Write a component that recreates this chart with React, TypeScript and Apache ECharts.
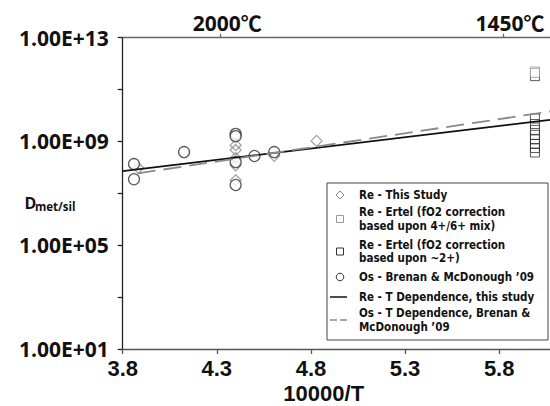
import React, { useEffect, useRef } from "react";
import * as echarts from "echarts";

// ---- data ----
const xTicks = [3.8, 4.3, 4.8, 5.3, 5.8];
const yTickValues = [1e1, 1e3, 1e5, 1e7, 1e9, 1e11, 1e13];
const yLabelValues = [1e1, 1e5, 1e9, 1e13];
const topTickValues = [4.318, 5.82];
const topTickLabels = ["2000℃", "1450℃"];

// Re - This Study (diamonds)
const reStudyX = [3.883, 4.4, 4.4, 4.4, 4.4, 4.4, 4.605, 4.83];
const reStudyD = [9.5e7, 7.2e8, 4.7e8, 2.3e8, 1.2e8, 3.2e7, 2.8e8, 1.05e9];

// Re - Ertel (4+/6+ mix) light squares
const ertelMixX = [5.99, 5.99];
const ertelMixD = [5.0e11, 4.4e11];

// Re - Ertel (~2+) dark squares
const ertel2X = [5.99, 5.99, 5.99, 5.99, 5.99, 5.99, 5.99, 5.99, 5.99];
const ertel2D = [3.3e11, 7.7e9, 4.7e9, 2.8e9, 1.8e9, 1.2e9, 8.0e8, 5.6e8, 3.75e8];

// Os - Brenan & McDonough '09 (circles)
const osX = [3.86, 3.86, 4.126, 4.4, 4.4, 4.4, 4.4, 4.5, 4.605];
const osD = [1.35e8, 3.5e7, 3.9e8, 1.95e9, 1.6e9, 1.6e8, 2.1e7, 2.75e8, 3.9e8];

// Re - T dependence, this study (solid)
const reFitX = [3.8, 6.07];
const reFitD = [7.2e7, 6.8e9];

// Os - T dependence, Brenan & McDonough '09 (dashed)
const osFitX = [3.88, 6.07];
const osFitD = [5.9e7, 1.43e10];

const legendLabels = [
  ["Re - This Study"],
  ["Re - Ertel (fO2 correction", "based upon 4+/6+ mix)"],
  ["Re - Ertel (fO2 correction", "based upon ~2+)"],
  ["Os - Brenan & McDonough \u201909"],
  ["Re - T Dependence, this study"],
  ["Os - T Dependence, Brenan &", "McDonough \u201909"],
];

const FONT = "'Open Sans', 'Noto Sans CJK SC', sans-serif";
const TIGHT_FONT = "'Liberation Sans', Arial, sans-serif";
const LEGEND_FONT = "'DejaVu Sans Condensed', 'Liberation Sans', sans-serif";

const zip = (xs: number[], ys: number[]) => xs.map((x, i) => [x, ys[i]]);

export default function App() {
  const ref = useRef<HTMLDivElement>(null);
  useEffect(() => {
    if (!ref.current) return;
    const chart = echarts.init(ref.current, undefined, { renderer: "svg" });

    const iconRowsY = [195, 219, 251.5, 277, 297, 320];
    const textRowsY = [[195], [212.3, 225.8], [244.6, 258.1], [276.8], [296.8], [313, 326.5]];
    const iconX = 340;
    const legendGraphics: any[] = [
      {
        type: "rect",
        shape: { x: 327, y: 183, width: 221, height: 157 },
        style: { fill: "#fff", stroke: "#444", lineWidth: 1 },
        z: 10,
      },
      {
        type: "polygon",
        shape: {
          points: [
            [iconX, iconRowsY[0] - 4],
            [iconX + 4, iconRowsY[0]],
            [iconX, iconRowsY[0] + 4],
            [iconX - 4, iconRowsY[0]],
          ],
        },
        style: { fill: "#fff", stroke: "#888", lineWidth: 1 },
        z: 11,
      },
      {
        type: "rect",
        shape: { x: iconX - 3.5, y: iconRowsY[1] - 3.5, width: 7, height: 7 },
        style: { fill: "#fff", stroke: "#999", lineWidth: 1 },
        z: 11,
      },
      {
        type: "rect",
        shape: { x: iconX - 3.5, y: iconRowsY[2] - 3.5, width: 7, height: 7 },
        style: { fill: "#fff", stroke: "#333", lineWidth: 1 },
        z: 11,
      },
      {
        type: "circle",
        shape: { cx: iconX, cy: iconRowsY[3], r: 3.8 },
        style: { fill: "#fff", stroke: "#333", lineWidth: 1 },
        z: 11,
      },
      {
        type: "line",
        shape: { x1: 330, y1: iconRowsY[4], x2: 347, y2: iconRowsY[4] },
        style: { stroke: "#111", lineWidth: 1.5 },
        z: 11,
      },
      {
        type: "line",
        shape: { x1: 330, y1: iconRowsY[5], x2: 347, y2: iconRowsY[5] },
        style: { stroke: "#888", lineWidth: 1.5, lineDash: [7, 3] },
        z: 11,
      },
    ];
    legendLabels.forEach((lines, i) => {
      lines.forEach((t, j) => {
        legendGraphics.push({
          type: "text",
          x: 359,
          y: textRowsY[i][j],
          z: 11,
          style: {
            text: t,
            fill: "#111",
            font: `bold 11.5px ${LEGEND_FONT}`,
            lineHeight: 11,
            verticalAlign: "middle",
            align: "left",
          },
        });
      });
    });

    const option: any = {
      animation: false,
      grid: { left: 122.7, right: 0, top: 37.7, bottom: 57 },
      xAxis: [
        {
          type: "value",
          position: "bottom",
          min: 3.8,
          max: 6.07,
          splitLine: { show: false },
          axisLine: { lineStyle: { color: "#555", width: 1.3 } },
          axisTick: { length: 5, customValues: xTicks, lineStyle: { color: "#555", width: 1.3 } },
          axisLabel: {
            customValues: xTicks,
            formatter: (v: number) => v.toFixed(1),
            fontFamily: TIGHT_FONT,
            fontWeight: "bold",
            fontSize: 22,
            color: "#111",
            margin: 8,
          },
        },
        {
          type: "value",
          position: "top",
          min: 3.8,
          max: 6.07,
          splitLine: { show: false },
          axisLine: { lineStyle: { color: "#666", width: 1.3 } },
          axisTick: { length: 4, customValues: topTickValues, lineStyle: { color: "#666", width: 1.3 } },
          axisLabel: {
            customValues: topTickValues,
            formatter: (v: number) => {
              const i = topTickValues.findIndex((t) => Math.abs(t - v) < 1e-6);
              return i >= 0 ? topTickLabels[i] : "";
            },
            fontFamily: FONT,
            fontWeight: "bold",
            fontSize: 21,
            color: "#111",
            margin: 4,
            padding: [0, 0, 0, 14],
          },
        },
      ],
      yAxis: {
        type: "log",
        logBase: 10,
        min: 1e1,
        max: 1e13,
        splitLine: { show: false },
        axisLine: { lineStyle: { color: "#222", width: 1.3 } },
        axisTick: { length: 5, customValues: yTickValues, lineStyle: { color: "#222", width: 1.3 } },
        axisLabel: {
          customValues: yLabelValues,
          formatter: (v: number) => {
            const e = Math.round(Math.log10(v));
            return `1.00E+${String(e).padStart(2, "0")}`;
          },
          fontFamily: FONT,
          fontWeight: "bold",
          fontSize: 21,
          color: "#111",
          margin: 14,
        },
      },
      graphic: [
        {
          type: "text",
          x: 323.7,
          y: 393.2,
          style: {
            text: "10000/T",
            font: `bold 22px ${TIGHT_FONT}`,
            lineHeight: 22,
            fill: "#111",
            align: "center",
            verticalAlign: "middle",
          },
        },
        {
          type: "text",
          x: 24.5,
          y: 203,
          style: { text: "D", font: `bold 16px ${FONT}`, fill: "#111", align: "left", verticalAlign: "middle" },
        },
        {
          type: "text",
          x: 35,
          y: 206.5,
          style: { text: "met/sil", font: `bold 11.5px ${FONT}`, fill: "#111", align: "left", verticalAlign: "middle" },
        },
        ...legendGraphics,
      ],
      series: [
        {
          name: "Re - T Dependence, this study",
          type: "line",
          data: zip(reFitX, reFitD),
          symbol: "none",
          silent: true,
          lineStyle: { color: "#111", width: 1.8 },
        },
        {
          name: "Os - T Dependence, Brenan & McDonough '09",
          type: "line",
          data: zip(osFitX, osFitD),
          symbol: "none",
          silent: true,
          lineStyle: { color: "#8a8a8a", width: 1.8, type: [18, 8] },
        },
        {
          name: "Re - Ertel (~2+)",
          type: "scatter",
          data: zip(ertel2X, ertel2D),
          symbol: "rect",
          symbolSize: 9,
          silent: true,
          itemStyle: { color: "rgba(255,255,255,0)", borderColor: "#333", borderWidth: 1 },
        },
        {
          name: "Re - Ertel (4+/6+ mix)",
          type: "scatter",
          data: zip(ertelMixX, ertelMixD),
          symbol: "rect",
          symbolSize: 9,
          silent: true,
          itemStyle: { color: "#fff", borderColor: "#999", borderWidth: 1 },
        },
        {
          name: "Re - This Study",
          type: "scatter",
          data: zip(reStudyX, reStudyD),
          symbol: "diamond",
          symbolSize: 11,
          silent: true,
          itemStyle: { color: "rgba(255,255,255,0)", borderColor: "#888", borderWidth: 1.2 },
        },
        {
          name: "Os - Brenan & McDonough '09",
          type: "scatter",
          data: zip(osX, osD),
          symbol: "circle",
          symbolSize: 11,
          silent: true,
          itemStyle: { color: "#fff", borderColor: "#333", borderWidth: 1.3 },
        },
      ],
    };
    chart.setOption(option);
    return () => chart.dispose();
  }, []);
  return (
    <div
      ref={ref}
      style={{ position: "fixed", left: 0, top: 0, width: 550, height: 406, background: "#fff" }}
    />
  );
}
